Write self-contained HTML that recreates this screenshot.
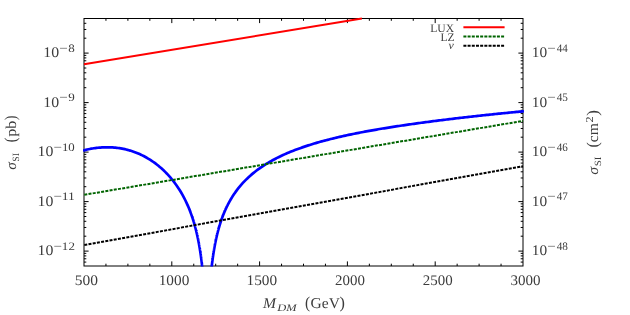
<!DOCTYPE html>
<html><head><meta charset="utf-8"><title>plot</title>
<style>
html,body{margin:0;padding:0;background:#fff;}
body{width:630px;height:315px;overflow:hidden;font-family:"Liberation Serif",serif;}
svg{display:block;will-change:transform;}
text{text-rendering:geometricPrecision;font-family:"Liberation Serif",serif;fill:#3c3c3c;}
.i{font-style:italic;}
</style></head><body>
<svg width="630" height="315" viewBox="0 0 630 315">
<rect x="0" y="0" width="630" height="315" fill="#ffffff"/>
<defs><clipPath id="c"><rect x="83" y="18" width="441" height="248.5"/></clipPath></defs>
<g stroke="#000" stroke-width="1" fill="none">
<rect x="84" y="18.5" width="439" height="247.5"/>
<path d="M105.95 266 v-2.3 M105.95 18.5 v2.3 M127.9 266 v-2.3 M127.9 18.5 v2.3 M149.85 266 v-2.3 M149.85 18.5 v2.3 M171.8 266 v-4.6 M171.8 18.5 v4.6 M193.75 266 v-2.3 M193.75 18.5 v2.3 M215.7 266 v-2.3 M215.7 18.5 v2.3 M237.65 266 v-2.3 M237.65 18.5 v2.3 M259.6 266 v-4.6 M259.6 18.5 v4.6 M281.55 266 v-2.3 M281.55 18.5 v2.3 M303.5 266 v-2.3 M303.5 18.5 v2.3 M325.45 266 v-2.3 M325.45 18.5 v2.3 M347.4 266 v-4.6 M347.4 18.5 v4.6 M369.35 266 v-2.3 M369.35 18.5 v2.3 M391.3 266 v-2.3 M391.3 18.5 v2.3 M413.25 266 v-2.3 M413.25 18.5 v2.3 M435.2 266 v-4.6 M435.2 18.5 v4.6 M457.15 266 v-2.3 M457.15 18.5 v2.3 M479.1 266 v-2.3 M479.1 18.5 v2.3 M501.05 266 v-2.3 M501.05 18.5 v2.3 M84 262.08 h2.3 M523 262.08 h-2.3 M84 258.77 h2.3 M523 258.77 h-2.3 M84 255.9 h2.3 M523 255.9 h-2.3 M84 253.36 h2.3 M523 253.36 h-2.3 M84 251.1 h4.6 M523 251.1 h-4.6 M84 236.2 h2.3 M523 236.2 h-2.3 M84 227.48 h2.3 M523 227.48 h-2.3 M84 221.3 h2.3 M523 221.3 h-2.3 M84 216.5 h2.3 M523 216.5 h-2.3 M84 212.58 h2.3 M523 212.58 h-2.3 M84 209.27 h2.3 M523 209.27 h-2.3 M84 206.4 h2.3 M523 206.4 h-2.3 M84 203.86 h2.3 M523 203.86 h-2.3 M84 201.6 h4.6 M523 201.6 h-4.6 M84 186.7 h2.3 M523 186.7 h-2.3 M84 177.98 h2.3 M523 177.98 h-2.3 M84 171.8 h2.3 M523 171.8 h-2.3 M84 167 h2.3 M523 167 h-2.3 M84 163.08 h2.3 M523 163.08 h-2.3 M84 159.77 h2.3 M523 159.77 h-2.3 M84 156.9 h2.3 M523 156.9 h-2.3 M84 154.36 h2.3 M523 154.36 h-2.3 M84 152.1 h4.6 M523 152.1 h-4.6 M84 137.2 h2.3 M523 137.2 h-2.3 M84 128.48 h2.3 M523 128.48 h-2.3 M84 122.3 h2.3 M523 122.3 h-2.3 M84 117.5 h2.3 M523 117.5 h-2.3 M84 113.58 h2.3 M523 113.58 h-2.3 M84 110.27 h2.3 M523 110.27 h-2.3 M84 107.4 h2.3 M523 107.4 h-2.3 M84 104.86 h2.3 M523 104.86 h-2.3 M84 102.6 h4.6 M523 102.6 h-4.6 M84 87.7 h2.3 M523 87.7 h-2.3 M84 78.98 h2.3 M523 78.98 h-2.3 M84 72.8 h2.3 M523 72.8 h-2.3 M84 68 h2.3 M523 68 h-2.3 M84 64.08 h2.3 M523 64.08 h-2.3 M84 60.77 h2.3 M523 60.77 h-2.3 M84 57.9 h2.3 M523 57.9 h-2.3 M84 55.36 h2.3 M523 55.36 h-2.3 M84 53.1 h4.6 M523 53.1 h-4.6 M84 38.2 h2.3 M523 38.2 h-2.3 M84 29.48 h2.3 M523 29.48 h-2.3 M84 23.3 h2.3 M523 23.3 h-2.3"/>
</g>
<g clip-path="url(#c)" fill="none">
<path d="M83.12 150.69 L84.47 150.26 L85.81 149.88 L87.16 149.54 L88.5 149.23 L89.85 148.95 L91.19 148.7 L92.54 148.47 L93.88 148.27 L95.23 148.09 L96.57 147.92 L97.91 147.78 L99.26 147.65 L100.6 147.55 L101.95 147.46 L103.29 147.39 L104.64 147.34 L105.98 147.31 L107.33 147.3 L108.67 147.31 L110.02 147.34 L111.36 147.39 L112.71 147.47 L114.05 147.56 L115.4 147.68 L116.74 147.82 L118.09 147.98 L119.43 148.17 L120.78 148.38 L122.12 148.62 L123.47 148.88 L124.81 149.17 L126.16 149.48 L127.5 149.82 L128.84 150.19 L130.19 150.58 L131.53 151 L132.88 151.44 L134.22 151.92 L135.57 152.42 L136.91 152.95 L138.26 153.51 L139.6 154.1 L140.95 154.73 L142.29 155.38 L143.64 156.06 L144.98 156.77 L146.33 157.52 L147.67 158.3 L149.02 159.11 L150.36 159.96 L151.71 160.84 L153.05 161.76 L154.4 162.72 L155.74 163.71 L157.09 164.74 L158.43 165.82 L159.77 166.94 L161.12 168.1 L162.46 169.31 L163.81 170.56 L165.15 171.87 L166.5 173.23 L167.84 174.64 L169.19 176.12 L170.53 177.65 L171.88 179.26 L173.22 180.93 L174.57 182.68 L175.91 184.5 L177.26 186.42 L178.6 188.43 L179.95 190.55 L181.29 192.77 L182.64 195.12 L183.98 197.61 L185.33 200.25 L186.67 203.07 L188.02 206.08 L189.36 209.31 L189.36 209.31 L189.4 209.42 L189.45 209.53 L189.49 209.64 L189.54 209.75 L189.58 209.86 L189.62 209.97 L189.67 210.08 L189.71 210.19 L189.75 210.3 L189.8 210.41 L189.84 210.52 L189.89 210.64 L189.93 210.75 L189.97 210.86 L190.02 210.98 L190.06 211.09 L190.1 211.2 L190.15 211.32 L190.19 211.43 L190.24 211.55 L190.28 211.66 L190.32 211.78 L190.37 211.89 L190.41 212.01 L190.45 212.12 L190.5 212.24 L190.54 212.36 L190.59 212.47 L190.63 212.59 L190.67 212.71 L190.72 212.83 L190.76 212.95 L190.8 213.07 L190.85 213.18 L190.89 213.3 L190.94 213.42 L190.98 213.54 L191.02 213.66 L191.07 213.78 L191.11 213.91 L191.15 214.03 L191.2 214.15 L191.24 214.27 L191.29 214.39 L191.33 214.52 L191.37 214.64 L191.42 214.76 L191.46 214.89 L191.5 215.01 L191.55 215.13 L191.59 215.26 L191.64 215.38 L191.68 215.51 L191.72 215.64 L191.77 215.76 L191.81 215.89 L191.85 216.02 L191.9 216.14 L191.94 216.27 L191.99 216.4 L192.03 216.53 L192.07 216.66 L192.12 216.79 L192.16 216.92 L192.2 217.05 L192.25 217.18 L192.29 217.31 L192.34 217.44 L192.38 217.57 L192.42 217.7 L192.47 217.83 L192.51 217.97 L192.55 218.1 L192.6 218.23 L192.64 218.37 L192.69 218.5 L192.73 218.64 L192.77 218.77 L192.82 218.91 L192.86 219.04 L192.9 219.18 L192.95 219.32 L192.99 219.45 L193.04 219.59 L193.08 219.73 L193.12 219.87 L193.17 220.01 L193.21 220.15 L193.25 220.29 L193.3 220.43 L193.34 220.57 L193.39 220.71 L193.43 220.85 L193.47 220.99 L193.52 221.14 L193.56 221.28 L193.6 221.42 L193.65 221.57 L193.69 221.71 L193.74 221.86 L193.78 222 L193.82 222.15 L193.87 222.29 L193.91 222.44 L193.95 222.59 L194 222.74 L194.04 222.88 L194.09 223.03 L194.13 223.18 L194.17 223.33 L194.22 223.48 L194.26 223.63 L194.3 223.78 L194.35 223.94 L194.39 224.09 L194.44 224.24 L194.48 224.4 L194.52 224.55 L194.57 224.7 L194.61 224.86 L194.65 225.02 L194.7 225.17 L194.74 225.33 L194.79 225.49 L194.83 225.64 L194.87 225.8 L194.92 225.96 L194.96 226.12 L195 226.28 L195.05 226.44 L195.09 226.6 L195.14 226.77 L195.18 226.93 L195.22 227.09 L195.27 227.26 L195.31 227.42 L195.36 227.58 L195.4 227.75 L195.44 227.92 L195.49 228.08 L195.53 228.25 L195.57 228.42 L195.62 228.59 L195.66 228.76 L195.71 228.93 L195.75 229.1 L195.79 229.27 L195.84 229.44 L195.88 229.62 L195.92 229.79 L195.97 229.96 L196.01 230.14 L196.06 230.31 L196.1 230.49 L196.14 230.67 L196.19 230.84 L196.23 231.02 L196.27 231.2 L196.32 231.38 L196.36 231.56 L196.41 231.74 L196.45 231.93 L196.49 232.11 L196.54 232.29 L196.58 232.48 L196.62 232.66 L196.67 232.85 L196.71 233.04 L196.76 233.22 L196.8 233.41 L196.84 233.6 L196.89 233.79 L196.93 233.98 L196.97 234.17 L197.02 234.37 L197.06 234.56 L197.11 234.75 L197.15 234.95 L197.19 235.14 L197.24 235.34 L197.28 235.54 L197.32 235.74 L197.37 235.94 L197.41 236.14 L197.46 236.34 L197.5 236.54 L197.54 236.74 L197.59 236.95 L197.63 237.15 L197.67 237.36 L197.72 237.57 L197.76 237.77 L197.81 237.98 L197.85 238.19 L197.89 238.4 L197.94 238.61 L197.98 238.83 L198.02 239.04 L198.07 239.26 L198.11 239.47 L198.16 239.69 L198.2 239.91 L198.24 240.13 L198.29 240.35 L198.33 240.57 L198.37 240.79 L198.42 241.02 L198.46 241.24 L198.51 241.47 L198.55 241.69 L198.59 241.92 L198.64 242.15 L198.68 242.38 L198.72 242.62 L198.77 242.85 L198.81 243.08 L198.86 243.32 L198.9 243.56 L198.94 243.8 L198.99 244.03 L199.03 244.28 L199.07 244.52 L199.12 244.76 L199.16 245.01 L199.21 245.25 L199.25 245.5 L199.29 245.75 L199.34 246 L199.38 246.25 L199.42 246.51 L199.47 246.76 L199.51 247.02 L199.56 247.28 L199.6 247.54 L199.64 247.8 L199.69 248.06 L199.73 248.32 L199.77 248.59 L199.82 248.86 L199.86 249.13 L199.91 249.4 L199.95 249.67 L199.99 249.94 L200.04 250.22 L200.08 250.5 L200.12 250.78 L200.17 251.06 L200.21 251.34 L200.26 251.63 L200.3 251.91 L200.34 252.2 L200.39 252.49 L200.43 252.78 L200.47 253.08 L200.52 253.37 L200.56 253.67 L200.61 253.97 L200.65 254.28 L200.69 254.58 L200.74 254.89 L200.78 255.2 L200.82 255.51 L200.87 255.82 L200.91 256.14 L200.96 256.45 L201 256.78 L201.04 257.1 L201.09 257.42 L201.13 257.75 L201.17 258.08 L201.22 258.41 L201.26 258.75 L201.31 259.09 L201.35 259.43 L201.39 259.77 L201.44 260.11 L201.48 260.46 L201.53 260.81 L201.57 261.17 L201.61 261.52 L201.66 261.88 L201.7 262.25 L201.74 262.61 L201.79 262.98 L201.83 263.35 L201.88 263.73 L201.92 264.11 L201.96 264.49 L202.01 264.87 L202.05 265.26 L202.09 265.66 L202.14 266.05 L202.18 266.45 L202.23 266.85 L202.27 267.26 L202.31 267.67 L202.36 268.09 L202.4 268.5 L202.44 268.93 L202.49 269.35 L202.53 269.78" stroke="#0000ff" stroke-width="2.7" stroke-linejoin="round"/>
<path d="M211.36 269.69 L211.42 269.19 L211.47 268.7 L211.52 268.21 L211.57 267.73 L211.63 267.25 L211.68 266.78 L211.73 266.31 L211.78 265.85 L211.84 265.39 L211.89 264.94 L211.94 264.49 L211.99 264.05 L212.05 263.61 L212.1 263.18 L212.15 262.75 L212.21 262.32 L212.26 261.9 L212.31 261.49 L212.36 261.07 L212.42 260.67 L212.47 260.26 L212.52 259.86 L212.57 259.46 L212.63 259.07 L212.68 258.68 L212.73 258.3 L212.78 257.91 L212.84 257.53 L212.89 257.16 L212.94 256.79 L212.99 256.42 L213.05 256.05 L213.1 255.69 L213.15 255.33 L213.2 254.97 L213.26 254.62 L213.31 254.27 L213.36 253.92 L213.42 253.58 L213.47 253.24 L213.52 252.9 L213.57 252.56 L213.63 252.23 L213.68 251.9 L213.73 251.57 L213.78 251.24 L213.84 250.92 L213.89 250.6 L213.94 250.28 L213.99 249.96 L214.05 249.65 L214.1 249.34 L214.15 249.03 L214.2 248.72 L214.26 248.42 L214.31 248.12 L214.36 247.82 L214.42 247.52 L214.47 247.22 L214.52 246.93 L214.57 246.64 L214.63 246.35 L214.68 246.06 L214.73 245.78 L214.78 245.49 L214.84 245.21 L214.89 244.93 L214.94 244.65 L214.99 244.38 L215.05 244.1 L215.1 243.83 L215.15 243.56 L215.2 243.29 L215.26 243.02 L215.31 242.76 L215.36 242.49 L215.42 242.23 L215.47 241.97 L215.52 241.71 L215.57 241.46 L215.63 241.2 L215.68 240.95 L215.73 240.69 L215.78 240.44 L215.84 240.19 L215.89 239.94 L215.94 239.7 L215.99 239.45 L216.05 239.21 L216.1 238.97 L216.15 238.73 L216.2 238.49 L216.26 238.25 L216.31 238.01 L216.36 237.78 L216.41 237.54 L216.47 237.31 L216.52 237.08 L216.57 236.85 L216.63 236.62 L216.68 236.39 L216.73 236.17 L216.78 235.94 L216.84 235.72 L216.89 235.5 L216.94 235.27 L216.99 235.05 L217.05 234.83 L217.1 234.62 L217.15 234.4 L217.2 234.18 L217.26 233.97 L217.31 233.76 L217.36 233.54 L217.41 233.33 L217.47 233.12 L217.52 232.91 L217.57 232.71 L217.63 232.5 L217.68 232.29 L217.73 232.09 L217.78 231.89 L217.84 231.68 L217.89 231.48 L217.94 231.28 L217.99 231.08 L218.05 230.88 L218.1 230.68 L218.15 230.49 L218.2 230.29 L218.26 230.1 L218.31 229.9 L218.36 229.71 L218.41 229.52 L218.47 229.32 L218.52 229.13 L218.57 228.94 L218.63 228.76 L218.68 228.57 L218.73 228.38 L218.78 228.19 L218.84 228.01 L218.89 227.82 L218.94 227.64 L218.99 227.46 L219.05 227.28 L219.1 227.1 L219.15 226.91 L219.2 226.74 L219.26 226.56 L219.31 226.38 L219.36 226.2 L219.41 226.02 L219.47 225.85 L219.52 225.67 L219.57 225.5 L219.62 225.33 L219.68 225.15 L219.73 224.98 L219.78 224.81 L219.84 224.64 L219.89 224.47 L219.94 224.3 L219.99 224.13 L220.05 223.97 L220.1 223.8 L220.15 223.63 L220.2 223.47 L220.26 223.3 L220.31 223.14 L220.36 222.97 L220.41 222.81 L220.47 222.65 L220.52 222.49 L220.57 222.33 L220.62 222.16 L220.68 222.01 L220.73 221.85 L220.78 221.69 L220.84 221.53 L220.89 221.37 L220.94 221.22 L220.99 221.06 L221.05 220.9 L221.1 220.75 L221.15 220.6 L221.2 220.44 L221.26 220.29 L221.31 220.14 L221.36 219.98 L221.41 219.83 L221.47 219.68 L221.52 219.53 L221.57 219.38 L221.62 219.23 L221.68 219.08 L221.73 218.94 L221.78 218.79 L221.84 218.64 L221.89 218.5 L221.94 218.35 L221.99 218.21 L222.05 218.06 L222.1 217.92 L222.15 217.77 L222.2 217.63 L222.26 217.49 L222.31 217.34 L222.36 217.2 L222.41 217.06 L222.47 216.92 L222.52 216.78 L222.57 216.64 L222.62 216.5 L222.68 216.36 L222.73 216.22 L222.78 216.09 L222.83 215.95 L222.89 215.81 L222.94 215.68 L222.99 215.54 L223.05 215.41 L223.1 215.27 L223.15 215.14 L223.2 215 L223.26 214.87 L223.31 214.73 L223.36 214.6 L223.41 214.47 L223.47 214.34 L223.52 214.21 L223.57 214.08 L223.62 213.94 L223.68 213.81 L223.73 213.69 L223.78 213.56 L223.83 213.43 L223.89 213.3 L223.94 213.17 L223.99 213.04 L224.05 212.92 L224.1 212.79 L224.15 212.66 L224.2 212.54 L224.26 212.41 L224.31 212.29 L224.36 212.16 L224.41 212.04 L224.47 211.91 L224.52 211.79 L224.57 211.67 L224.62 211.54 L224.68 211.42 L224.73 211.3 L224.78 211.18 L224.83 211.06 L224.89 210.93 L224.94 210.81 L224.99 210.69 L225.05 210.57 L225.1 210.45 L225.15 210.34 L225.2 210.22 L225.26 210.1 L225.31 209.98 L225.36 209.86 L225.41 209.75 L225.47 209.63 L225.52 209.51 L225.57 209.4 L225.62 209.28 L225.68 209.16 L225.73 209.05 L225.78 208.93 L225.83 208.82 L225.89 208.7 L225.94 208.59 L225.99 208.48 L226.04 208.36 L226.1 208.25 L226.15 208.14 L226.2 208.03 L226.26 207.91 L226.31 207.8 L226.36 207.69 L226.41 207.58 L226.47 207.47 L226.52 207.36 L226.57 207.25 L226.62 207.14 L226.68 207.03 L226.73 206.92 L226.78 206.81 L226.83 206.7 L226.89 206.59 L226.94 206.49 L226.99 206.38 L227.04 206.27 L227.1 206.16 L227.15 206.06 L227.2 205.95 L227.26 205.85 L227.31 205.74 L227.36 205.63 L227.41 205.53 L227.47 205.42 L227.52 205.32 L227.57 205.21 L227.62 205.11 L227.68 205.01 L227.73 204.9 L227.78 204.8 L227.83 204.7 L227.89 204.59 L227.94 204.49 L227.99 204.39 L227.99 204.39 L229.48 201.61 L230.97 199.01 L232.45 196.58 L233.94 194.3 L235.43 192.15 L236.91 190.12 L238.4 188.19 L239.89 186.37 L241.37 184.63 L242.86 182.97 L244.35 181.38 L245.83 179.86 L247.32 178.41 L248.81 177.02 L250.29 175.68 L251.78 174.39 L253.27 173.15 L254.76 171.95 L256.24 170.79 L257.73 169.68 L259.22 168.6 L260.7 167.56 L262.19 166.55 L263.68 165.57 L265.16 164.62 L266.65 163.69 L268.14 162.8 L269.62 161.93 L271.11 161.08 L272.6 160.26 L274.08 159.46 L275.57 158.68 L277.06 157.92 L278.55 157.18 L280.03 156.45 L281.52 155.75 L283.01 155.06 L284.49 154.39 L285.98 153.73 L287.47 153.09 L288.95 152.46 L290.44 151.85 L291.93 151.25 L293.41 150.66 L294.9 150.08 L296.39 149.52 L297.87 148.97 L299.36 148.43 L300.85 147.9 L302.34 147.37 L303.82 146.86 L305.31 146.36 L306.8 145.87 L308.28 145.39 L309.77 144.92 L311.26 144.45 L312.74 143.99 L314.23 143.54 L315.72 143.1 L317.2 142.67 L318.69 142.24 L320.18 141.82 L321.66 141.41 L323.15 141 L324.64 140.6 L326.13 140.21 L327.61 139.82 L329.1 139.44 L330.59 139.06 L332.07 138.69 L333.56 138.33 L335.05 137.97 L336.53 137.61 L338.02 137.26 L339.51 136.92 L340.99 136.58 L342.48 136.24 L343.97 135.91 L345.45 135.58 L346.94 135.26 L348.43 134.94 L349.91 134.63 L351.4 134.32 L352.89 134.01 L354.38 133.71 L355.86 133.41 L357.35 133.11 L358.84 132.82 L360.32 132.53 L361.81 132.24 L363.3 131.96 L364.78 131.68 L366.27 131.4 L367.76 131.13 L369.24 130.86 L370.73 130.59 L372.22 130.33 L373.7 130.06 L375.19 129.8 L376.68 129.55 L378.17 129.29 L379.65 129.04 L381.14 128.79 L382.63 128.54 L384.11 128.3 L385.6 128.05 L387.09 127.81 L388.57 127.58 L390.06 127.34 L391.55 127.1 L393.03 126.87 L394.52 126.64 L396.01 126.41 L397.49 126.19 L398.98 125.96 L400.47 125.74 L401.96 125.52 L403.44 125.3 L404.93 125.08 L406.42 124.86 L407.9 124.65 L409.39 124.43 L410.88 124.22 L412.36 124.01 L413.85 123.8 L415.34 123.6 L416.82 123.39 L418.31 123.19 L419.8 122.98 L421.28 122.78 L422.77 122.58 L424.26 122.38 L425.74 122.18 L427.23 121.99 L428.72 121.79 L430.21 121.6 L431.69 121.4 L433.18 121.21 L434.67 121.02 L436.15 120.83 L437.64 120.64 L439.13 120.46 L440.61 120.27 L442.1 120.08 L443.59 119.9 L445.07 119.72 L446.56 119.53 L448.05 119.35 L449.53 119.17 L451.02 118.99 L452.51 118.81 L454 118.64 L455.48 118.46 L456.97 118.28 L458.46 118.11 L459.94 117.93 L461.43 117.76 L462.92 117.59 L464.4 117.42 L465.89 117.25 L467.38 117.08 L468.86 116.91 L470.35 116.74 L471.84 116.58 L473.32 116.41 L474.81 116.24 L476.3 116.08 L477.79 115.92 L479.27 115.75 L480.76 115.59 L482.25 115.43 L483.73 115.27 L485.22 115.11 L486.71 114.95 L488.19 114.79 L489.68 114.64 L491.17 114.48 L492.65 114.33 L494.14 114.17 L495.63 114.02 L497.11 113.87 L498.6 113.71 L500.09 113.56 L501.58 113.41 L503.06 113.26 L504.55 113.11 L506.04 112.97 L507.52 112.82 L509.01 112.67 L510.5 112.53 L511.98 112.39 L513.47 112.24 L514.96 112.1 L516.44 111.96 L517.93 111.82 L519.42 111.68 L520.9 111.54 L522.39 111.4 L523.88 111.27" stroke="#0000ff" stroke-width="2.7" stroke-linejoin="round"/>
<line x1="84.3" y1="194.8" x2="523" y2="120.9" stroke="#006400" stroke-width="2" stroke-dasharray="3 1.27"/>
<line x1="84.3" y1="245" x2="523" y2="166.2" stroke="#000" stroke-width="2" stroke-dasharray="3 1.27"/>
</g>
<line x1="84" y1="64.2" x2="361.9" y2="18.55" stroke="#ff0000" stroke-width="2" fill="none"/>
<g>
<text x="74.82" y="285.4" font-size="14.6" textLength="23.21" lengthAdjust="spacingAndGlyphs">500</text>
<text x="158.71" y="285.4" font-size="14.6" textLength="30.57" lengthAdjust="spacingAndGlyphs">1000</text>
<text x="246.51" y="285.4" font-size="14.6" textLength="30.57" lengthAdjust="spacingAndGlyphs">1500</text>
<text x="335.03" y="285.4" font-size="14.6" textLength="29.83" lengthAdjust="spacingAndGlyphs">2000</text>
<text x="422.83" y="285.4" font-size="14.6" textLength="29.83" lengthAdjust="spacingAndGlyphs">2500</text>
<text x="510.4" y="285.4" font-size="14.6" textLength="30.07" lengthAdjust="spacingAndGlyphs">3000</text>
<text x="61.88" y="249.8" font-size="11.5" textLength="13.03" lengthAdjust="spacingAndGlyphs">12</text>
<text x="53.59" y="249.8" font-size="11.5" textLength="8.54" lengthAdjust="spacingAndGlyphs">−</text>
<text x="37.56" y="255.1" font-size="14.6" textLength="15.83" lengthAdjust="spacingAndGlyphs">10</text>
<text x="531.7" y="255.1" font-size="14.6" textLength="15.38" lengthAdjust="spacingAndGlyphs">10</text>
<text x="547.19" y="249.8" font-size="11.5" textLength="8.54" lengthAdjust="spacingAndGlyphs">−</text>
<text x="556.72" y="249.8" font-size="11.5" textLength="11.23" lengthAdjust="spacingAndGlyphs">48</text>
<text x="61.84" y="200.3" font-size="11.5" textLength="13.1" lengthAdjust="spacingAndGlyphs">11</text>
<text x="53.59" y="200.3" font-size="11.5" textLength="8.54" lengthAdjust="spacingAndGlyphs">−</text>
<text x="37.56" y="205.6" font-size="14.6" textLength="15.83" lengthAdjust="spacingAndGlyphs">10</text>
<text x="531.7" y="205.6" font-size="14.6" textLength="15.38" lengthAdjust="spacingAndGlyphs">10</text>
<text x="547.19" y="200.3" font-size="11.5" textLength="8.54" lengthAdjust="spacingAndGlyphs">−</text>
<text x="556.73" y="200.3" font-size="11.5" textLength="11.05" lengthAdjust="spacingAndGlyphs">47</text>
<text x="61.9" y="150.8" font-size="11.5" textLength="12.8" lengthAdjust="spacingAndGlyphs">10</text>
<text x="53.59" y="150.8" font-size="11.5" textLength="8.54" lengthAdjust="spacingAndGlyphs">−</text>
<text x="37.56" y="156.1" font-size="14.6" textLength="15.83" lengthAdjust="spacingAndGlyphs">10</text>
<text x="531.7" y="156.1" font-size="14.6" textLength="15.38" lengthAdjust="spacingAndGlyphs">10</text>
<text x="547.19" y="150.8" font-size="11.5" textLength="8.54" lengthAdjust="spacingAndGlyphs">−</text>
<text x="556.73" y="150.8" font-size="11.5" textLength="11.05" lengthAdjust="spacingAndGlyphs">46</text>
<text x="68.19" y="101.3" font-size="11.5" textLength="6.51" lengthAdjust="spacingAndGlyphs">9</text>
<text x="59.29" y="101.3" font-size="11.5" textLength="8.54" lengthAdjust="spacingAndGlyphs">−</text>
<text x="43.26" y="106.6" font-size="14.6" textLength="15.83" lengthAdjust="spacingAndGlyphs">10</text>
<text x="531.7" y="106.6" font-size="14.6" textLength="15.38" lengthAdjust="spacingAndGlyphs">10</text>
<text x="547.19" y="101.3" font-size="11.5" textLength="8.54" lengthAdjust="spacingAndGlyphs">−</text>
<text x="556.72" y="101.3" font-size="11.5" textLength="11.23" lengthAdjust="spacingAndGlyphs">45</text>
<text x="68.19" y="51.8" font-size="11.5" textLength="6.51" lengthAdjust="spacingAndGlyphs">8</text>
<text x="59.29" y="51.8" font-size="11.5" textLength="8.54" lengthAdjust="spacingAndGlyphs">−</text>
<text x="43.26" y="57.1" font-size="14.6" textLength="15.83" lengthAdjust="spacingAndGlyphs">10</text>
<text x="531.7" y="57.1" font-size="14.6" textLength="15.38" lengthAdjust="spacingAndGlyphs">10</text>
<text x="547.19" y="51.8" font-size="11.5" textLength="8.54" lengthAdjust="spacingAndGlyphs">−</text>
<text x="556.73" y="51.8" font-size="11.5" textLength="11.05" lengthAdjust="spacingAndGlyphs">44</text>
<text class="i" x="263.04" y="307.7" font-size="15" textLength="13.05" lengthAdjust="spacingAndGlyphs">M</text>
<text class="i" x="277.39" y="310.5" font-size="10.1" textLength="19.39" lengthAdjust="spacingAndGlyphs">DM</text>
<text x="305.12" y="307.8" font-size="16.6" textLength="5.09" lengthAdjust="spacingAndGlyphs">(</text>
<text x="310.61" y="307.7" font-size="15" textLength="29.34" lengthAdjust="spacingAndGlyphs">GeV</text>
<text x="339.39" y="307.8" font-size="16.6" textLength="5.39" lengthAdjust="spacingAndGlyphs">)</text>
<text x="430.22" y="31.7" font-size="11.6" textLength="23.82" lengthAdjust="spacingAndGlyphs">LUX</text>
<text x="440.52" y="40.6" font-size="11.6" textLength="14.03" lengthAdjust="spacingAndGlyphs">LZ</text>
<text class="i" x="448.6" y="49.4" font-size="11.4" textLength="5.29" lengthAdjust="spacingAndGlyphs">ν</text>
</g>
<g transform="translate(16.3 170) rotate(-90)">
<text class="i" x="0.26" y="0" font-size="15" textLength="7.56" lengthAdjust="spacingAndGlyphs">σ</text>
<text x="8.39" y="2.7" font-size="9.5" textLength="8.71" lengthAdjust="spacingAndGlyphs">SI</text>
<text x="27.87" y="0" font-size="16.8" textLength="4.62" lengthAdjust="spacingAndGlyphs">(</text>
<text x="33.15" y="0" font-size="15" textLength="16.05" lengthAdjust="spacingAndGlyphs">pb</text>
<text x="49.85" y="0" font-size="16.8" textLength="4.76" lengthAdjust="spacingAndGlyphs">)</text>
</g>
<g transform="translate(598.3 175) rotate(-90)">
<text class="i" x="0.35" y="0" font-size="15" textLength="7.84" lengthAdjust="spacingAndGlyphs">σ</text>
<text x="8.71" y="2.7" font-size="9.5" textLength="9.82" lengthAdjust="spacingAndGlyphs">SI</text>
<text x="27.5" y="0" font-size="16.5" textLength="5.33" lengthAdjust="spacingAndGlyphs">(</text>
<text x="32.71" y="0" font-size="15" textLength="19.08" lengthAdjust="spacingAndGlyphs">cm</text>
<text x="52.52" y="-5.6" font-size="10.6" textLength="6.04" lengthAdjust="spacingAndGlyphs">2</text>
<text x="59.27" y="0" font-size="16.5" textLength="5.64" lengthAdjust="spacingAndGlyphs">)</text>
</g>
<g fill="none" stroke-width="2">
<line x1="463.4" y1="27.35" x2="504.6" y2="27.35" stroke="#ff0000"/>
<line x1="463.4" y1="36.6" x2="504.1" y2="36.6" stroke="#006400" stroke-dasharray="3 1.19"/>
<line x1="463.4" y1="45.8" x2="504.1" y2="45.8" stroke="#000" stroke-dasharray="3 1.19"/>
</g>
</svg>
</body></html>
